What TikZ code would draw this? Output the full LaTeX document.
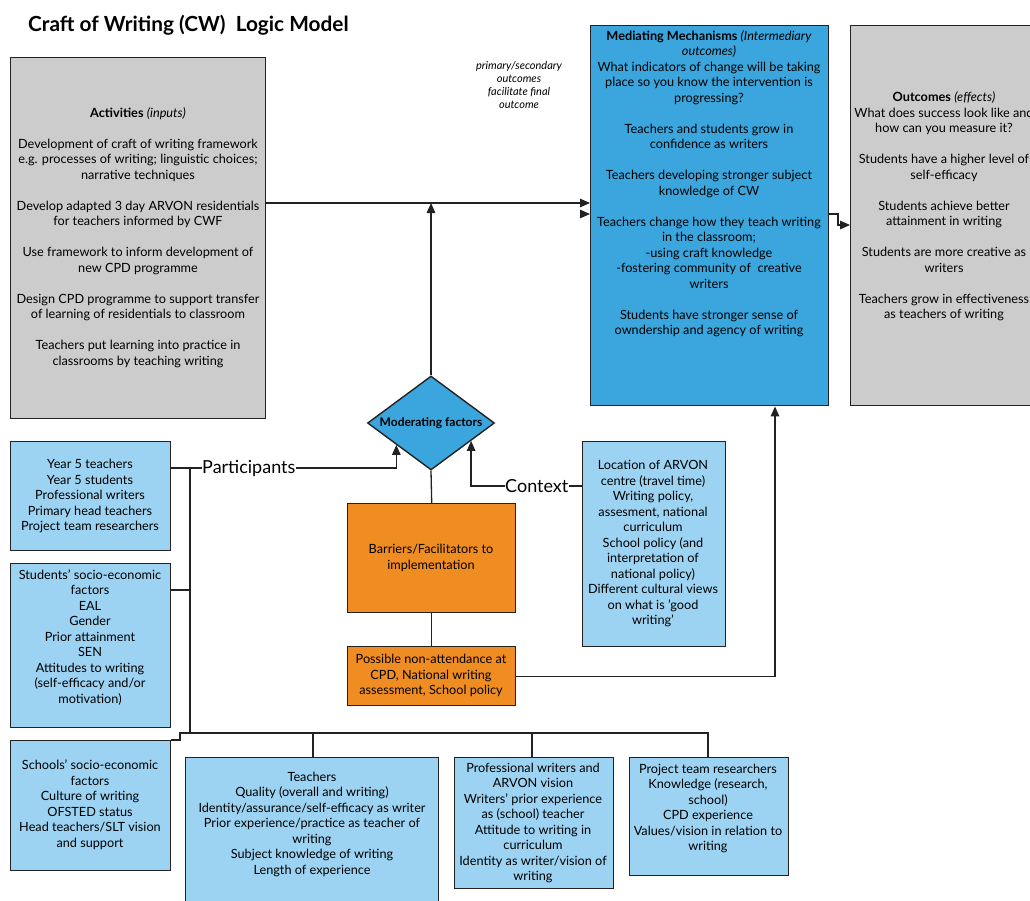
\documentclass[tikz,border=0pt]{standalone}
\usepackage{fontspec}
\setmainfont{Lato}
\usetikzlibrary{arrows.meta,shapes.geometric,calc}
\definecolor{grayfill}{HTML}{CCCCCC}
\definecolor{medblue}{HTML}{3BA6DD}
\definecolor{lightblue}{HTML}{9CD3F2}
\definecolor{orangefill}{HTML}{F08D22}
\definecolor{edge}{HTML}{222222}
\begin{document}
\begin{tikzpicture}[x=1pt,y=-1pt,
  box/.style={draw=edge,line width=1.4pt,inner sep=0pt,anchor=north west},
  txt/.style={align=center,font=\fontsize{12.7}{15.5}\selectfont,inner sep=0pt},
  lbl/.style={font=\fontsize{18}{20}\selectfont,inner sep=0pt},
  arr/.style={draw=edge,line width=1.3pt,-{Triangle[length=10pt,width=8.5pt]}},
  ln/.style={draw=edge,line width=1.3pt}]
\useasboundingbox (0,0) rectangle (1030,900);
\clip (0,0) rectangle (1030,900);

% title and note
\node[anchor=west,font=\bfseries\fontsize{20.8}{24}\selectfont,inner sep=0pt] (title) at (28,25) {Craft of Writing (CW)\ \ Logic Model};
\node[align=center,font=\itshape\fontsize{11}{13}\selectfont,inner sep=0pt] (note) at (519,84.5) {primary/secondary\\outcomes\\facilitate final\\outcome};

% boxes
\node[box,fill=grayfill,minimum width=255pt,minimum height=361pt] (act) at (10,57) {};
\node[box,fill=medblue,minimum width=238pt,minimum height=380pt] (med) at (590,25) {};
\node[box,fill=grayfill,minimum width=190pt,minimum height=380pt] (out) at (850,25) {};
\node[box,fill=lightblue,minimum width=160pt,minimum height=109pt] (p1) at (10,441) {};
\node[box,fill=lightblue,minimum width=160pt,minimum height=164pt] (p2) at (10,563) {};
\node[box,fill=lightblue,minimum width=160pt,minimum height=130pt] (p3) at (10,740) {};
\node[box,fill=lightblue,minimum width=253pt,minimum height=160pt] (teach) at (185,757) {};
\node[box,fill=lightblue,minimum width=159pt,minimum height=131pt] (prof) at (454,757) {};
\node[box,fill=lightblue,minimum width=159pt,minimum height=118pt] (proj) at (629,757) {};
\node[box,fill=lightblue,minimum width=143pt,minimum height=205pt] (ctx) at (582,441) {};
\node[box,fill=orangefill,minimum width=168pt,minimum height=109pt] (bar) at (347,503) {};
\node[box,fill=orangefill,minimum width=168pt,minimum height=59pt] (pos) at (347,646) {};
\node[diamond,aspect=1.4,draw=edge,line width=1.4pt,fill=medblue,minimum width=127pt,minimum height=94pt,inner sep=0pt,font=\bfseries\fontsize{12}{14}\selectfont] (dia) at (431,423) {Moderating factors};

% texts
\node[txt] (actt) at (138,237.5) {\textbf{Activities} \textit{(inputs)}\\[15.5pt]
Development of craft of writing framework\\
e.g. processes of writing; linguistic choices;\\
narrative techniques\\[15.5pt]
Develop adapted 3 day ARVON residentials\\
for teachers informed by CWF\\[15.5pt]
Use framework to inform development of\\
new CPD programme\\[15.5pt]
Design CPD programme to support transfer\\
of learning of residentials to classroom\\[15.5pt]
Teachers put learning into practice in\\
classrooms by teaching writing};

\node[txt] (medt) at (709,183.5) {\textbf{Mediating Mechanisms} \textit{(Intermediary}\\
\textit{outcomes)}\\
What indicators of change will be taking\\
place so you know the intervention is\\
progressing?\\[15.5pt]
Teachers and students grow in\\
confidence as writers\\[15.5pt]
Teachers developing stronger subject\\
knowledge of CW\\[15.5pt]
Teachers change how they teach writing\\
in the classroom;\\
-using craft knowledge\\
-fostering community of\ \ creative\\
writers\\[15.5pt]
Students have stronger sense of\\
owndership and agency of writing};

\node[txt] (outt) at (944,206.5) {\textbf{Outcomes} \textit{(effects)}\\
What does success look like and\\
how can you measure it?\\[15.5pt]
Students have a higher level of\\
self-efficacy\\[15.5pt]
Students achieve better\\
attainment in writing\\[15.5pt]
Students are more creative as\\
writers\\[15.5pt]
Teachers grow in effectiveness\\
as teachers of writing};

\node[txt] (p1t) at (90,496) {Year 5 teachers\\Year 5 students\\Professional writers\\Primary head teachers\\Project team researchers};
\node[txt] (p2t) at (90,637.5) {Students' socio-economic\\factors\\EAL\\Gender\\Prior attainment\\SEN\\Attitudes to writing\\(self-efficacy and/or\\motivation)};
\node[txt] (p3t) at (90,804.5) {Schools' socio-economic\\factors\\Culture of writing\\OFSTED status\\Head teachers/SLT vision\\and support};
\node[txt] (teacht) at (312,824) {Teachers\\Quality (overall and writing)\\Identity/assurance/self-efficacy as writer\\Prior experience/practice as teacher of\\writing\\Subject knowledge of writing\\Length of experience};
\node[txt] (proft) at (533,823) {Professional writers and\\ARVON vision\\Writers' prior experience\\as (school) teacher\\Attitude to writing in\\curriculum\\Identity as writer/vision of\\writing};
\node[txt] (projt) at (708,808.5) {Project team researchers\\Knowledge (research,\\school)\\CPD experience\\Values/vision in relation to\\writing};
\node[txt] (ctxt) at (653,543.5) {Location of ARVON\\centre (travel time)\\Writing policy,\\assesment, national\\curriculum\\School policy (and\\interpretation of\\national policy)\\Different cultural views\\on what is 'good\\writing'};
\node[txt] (bart) at (431,558) {Barriers/Facilitators to\\implementation};
\node[txt] (post) at (431,675.5) {Possible non-attendance at\\CPD, National writing\\assessment, School policy};

% labels
\node[lbl,anchor=west] (partl) at (202,468) {Participants};
\node[lbl,anchor=west] (ctxl) at (505,486) {Context};

% coordinates
\coordinate (ya) at (0,203);
\coordinate (yb) at (0,214);
\coordinate (spine) at (190,468);
\coordinate (p2j) at (190,590);
\coordinate (bus) at (190,733);
\coordinate (busend) at (708,733);

% connectors
\draw[arr] (act.east |- ya) -- (med.west |- ya);
\draw[arr] (dia.north) -- (dia.north |- ya);
\draw[arr] ($(med.west |- yb)+(-2,0)$) -- (med.west |- yb);
\draw[arr] (med.east |- yb) -- (838,214) -- (838,225) -- (out.west |- 0,225);
\draw[ln] (dia.south) -- (bar.north);
\draw[ln] (bar.south) -- (pos.north);
\draw[arr] (pos.east) -| ($(med.south west)+(185,0)$);
\draw[ln] (ctx.west |- ctxl) -- (ctxl.east);
\draw[arr] (ctxl.west) -| ($(dia.east)!0.375!(dia.south)$);
\draw[ln] (p1.east |- spine) -- (partl.west);
\draw[arr] (partl.east) -| ($(dia.west)!0.46!(dia.south)$);
\draw[ln] (spine) -- (p2j) -- (p2.east |- p2j);
\draw[ln] (p2j) -- (bus) -- (busend) -- (proj.north -| busend);
\draw[ln] (p3.north east) -- (180,740) -- (180,733) -- (bus);
\draw[ln] (teach.north -| 313,0) -- (313,733);
\draw[ln] (prof.north -| 532,0) -- (532,733);
\end{tikzpicture}
\end{document}
